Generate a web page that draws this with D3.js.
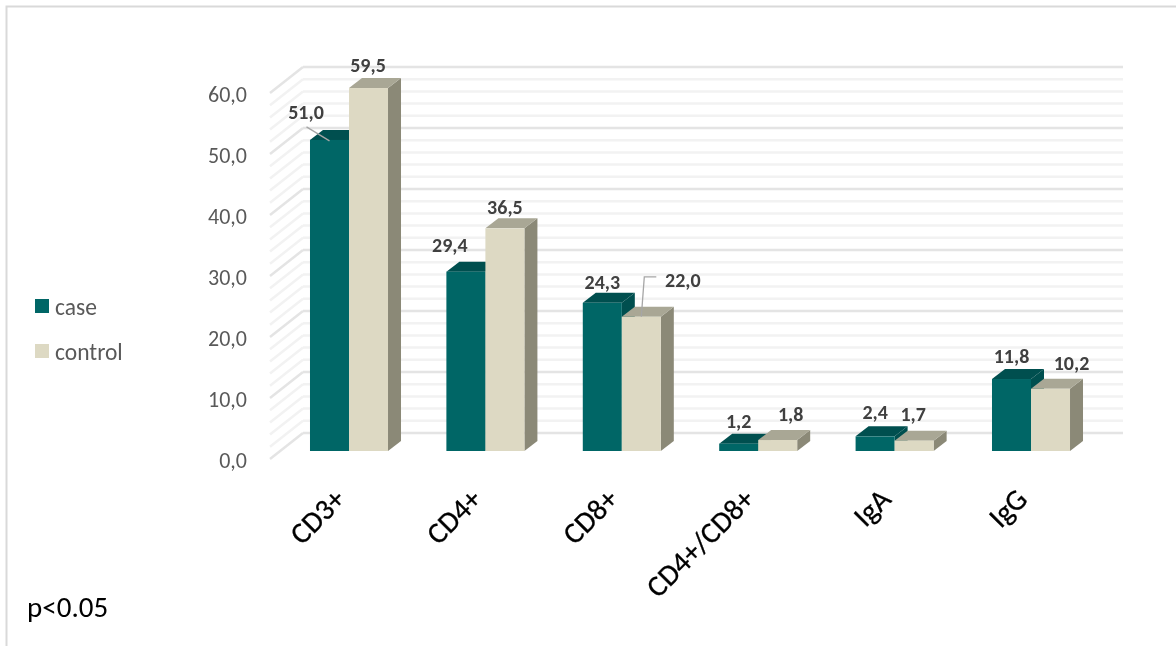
<!DOCTYPE html>
<html>
<head>
<meta charset="utf-8">
<script src="https://cdn.jsdelivr.net/npm/d3@7"></script>
<style>
html, body { margin: 0; padding: 0; background: #fff; }
svg { display: block; }
text { font-family: Carlito, "Open Sans", "Noto Sans", sans-serif; }
</style>
</head>
<body>
<div id="vis"></div>
<script>
// values
const categories = ['CD3+', 'CD4+', 'CD8+', 'CD4+/CD8+', 'IgA', 'IgG'];
const seriesNames = ['case', 'control'];
const caseValues = [51.0, 29.4, 24.3, 1.2, 2.4, 11.8];
const controlValues = [59.5, 36.5, 22.0, 1.8, 1.7, 10.2];
const yTicks = [0, 10, 20, 30, 40, 50, 60];
const gridValues = d3.range(0, 61, 2);

const colors = {
    case: {front: '#006666', top: '#004f4f', side: '#004f4f'},
    control: {front: '#ddd9c3', top: '#a9a795', side: '#8b8977'}
};

// layout
const depthX = 13, depthY = 10;
const width = 1176, height = 646;

const svg = d3.select('#vis').append('svg')
    .attr('width', width)
    .attr('height', height)
    .style('filter', 'blur(0.45px)'); // the reference is a soft, scaled up picture

// picture border, top and left only
svg.append('path')
    .attr('d', 'M6.5,646V6.5H1176')
    .attr('fill', 'none')
    .attr('stroke', '#d9d9d9')
    .attr('stroke-width', 2);

const xScale = d3.scaleBand()
    .domain(categories)
    .range([280.8, 1099.2])
    .paddingInner(0.428)
    .paddingOuter(0.214);
const x1 = d3.scaleBand()
    .domain(seriesNames)
    .range([0, xScale.bandwidth()]);

// bars stand a little in front of the back wall
const yBar = d3.scaleLinear().domain([0, 60]).range([451, 85]);
const yBack = d3.scaleLinear().domain([0, 60]).range([433, 67]);
const yFloor = d3.scaleLinear().domain([0, 60]).range([459, 93]);
const yLabels = d3.scaleLinear().domain([0, 60]).range([460, 94]);

// grid on the back wall and on the side wall
const grid = svg.append('g');
grid.selectAll('.back')
    .data(gridValues)
    .join('line')
    .attr('class', 'back')
    .attr('x1', 303).attr('x2', 1123)
    .attr('y1', d => yBack(d)).attr('y2', d => yBack(d))
    .attr('stroke', d => d % 10 == 0 ? '#e4e4e4' : '#f2f2f2')
    .attr('stroke-width', 2.5);
grid.selectAll('.side')
    .data(gridValues)
    .join('line')
    .attr('class', 'side')
    .attr('x1', 270).attr('x2', 303)
    .attr('y1', d => yFloor(d)).attr('y2', d => yBack(d))
    .attr('stroke', d => d % 10 == 0 ? '#e4e4e4' : '#f2f2f2')
    .attr('stroke-width', 2.5);

// y axis labels
const yAxis = d3.axisLeft(yLabels)
    .tickValues(yTicks)
    .tickSize(0)
    .tickPadding(0)
    .tickFormat(d => d3.format('.1f')(d).replace('.', ','));
const yG = svg.append('g')
    .attr('transform', 'translate(247,0.5)')
    .call(yAxis);
yG.select('.domain').remove();
yG.selectAll('text')
    .attr('fill', '#595959')
    .style('font-size', '22px');

// bars, drawn back to front per group
const rows = categories.flatMap((c, i) => [
    {cat: c, s: 'case', v: caseValues[i]},
    {cat: c, s: 'control', v: controlValues[i]}
]);
const bars = svg.selectAll('.bar')
    .data(rows)
    .join('g')
    .attr('class', 'bar');
bars.append('path')
    .attr('fill', d => colors[d.s].side)
    .attr('d', d => {
        const x = xScale(d.cat) + x1(d.s) + x1.bandwidth();
        const t = yBar(d.v), b = yBar(0);
        return `M${x},${t}l${depthX},${-depthY}V${b - depthY}L${x},${b}Z`;
    });
bars.append('path')
    .attr('fill', d => colors[d.s].top)
    .attr('d', d => {
        const x = xScale(d.cat) + x1(d.s);
        const t = yBar(d.v), w = x1.bandwidth();
        return `M${x},${t}l${depthX},${-depthY}h${w}l${-depthX},${depthY}Z`;
    });
bars.append('rect')
    .attr('fill', d => colors[d.s].front)
    .attr('x', d => xScale(d.cat) + x1(d.s))
    .attr('y', d => yBar(d.v))
    .attr('width', x1.bandwidth())
    .attr('height', d => yBar(0) - yBar(d.v));

// value labels, moved by hand like in the original
const labelNudge = [
    [-23.5, -28], [-0.5, -23], [-16, -27], [0, -21], [0, -21], [41.5, -37],
    [0, -23], [13, -26], [0, -24], [-1, -27], [0, -23], [21, -26]
];
const barMid = d => xScale(d.cat) + x1(d.s) + x1.bandwidth() / 2;

svg.selectAll('.value')
    .data(rows)
    .join('text')
    .attr('class', 'value')
    .attr('x', (d, i) => barMid(d) + labelNudge[i][0])
    .attr('y', (d, i) => yBar(d.v) + labelNudge[i][1])
    .attr('dy', '0.35em')
    .attr('text-anchor', 'middle')
    .attr('fill', '#404040')
    .style('font-size', '20px')
    .style('font-weight', 'bold')
    .text(d => d3.format('.1f')(d.v).replace('.', ','));

// leader lines for 51,0 and 22,0
const leader51 = rows[0], leader22 = rows[5];
svg.append('path')
    .attr('fill', 'none')
    .attr('stroke', '#a6a6a6')
    .attr('stroke-width', 1.3)
    .attr('d', `M${barMid(leader51) - 23},${yBar(leader51.v) - 13}l23,14`);
svg.append('path')
    .attr('fill', 'none')
    .attr('stroke', '#a6a6a6')
    .attr('stroke-width', 1.3)
    .attr('d', `M${barMid(leader22)},${yBar(leader22.v)}L${barMid(leader22) + 3},${yBar(leader22.v) - 40}h12`);

// category labels
svg.selectAll('.cat')
    .data(categories)
    .join('text')
    .attr('class', 'cat')
    .attr('text-anchor', 'end')
    .attr('fill', '#000')
    .attr('stroke', '#000')
    .attr('stroke-width', 0.3)
    .style('font-size', '29.5px')
    .attr('transform', d => `translate(${xScale(d) + 37},${501}) rotate(-45)`)
    .text(d => d);

// legend
const legend = svg.selectAll('.legend')
    .data(seriesNames)
    .join('g')
    .attr('class', 'legend')
    .attr('transform', (d, i) => `translate(35,${299 + i * 45})`);
legend.append('rect')
    .attr('width', 14).attr('height', 14)
    .attr('fill', d => colors[d].front);
legend.append('text')
    .attr('x', 20).attr('y', 8)
    .attr('dy', '0.35em')
    .attr('fill', '#595959')
    .style('font-size', '23.5px')
    .text(d => d);

svg.append('text')
    .attr('x', 27).attr('y', 617)
    .attr('fill', '#000')
    .style('font-size', '29px')
    .text('p<0.05');
</script>
</body>
</html>
